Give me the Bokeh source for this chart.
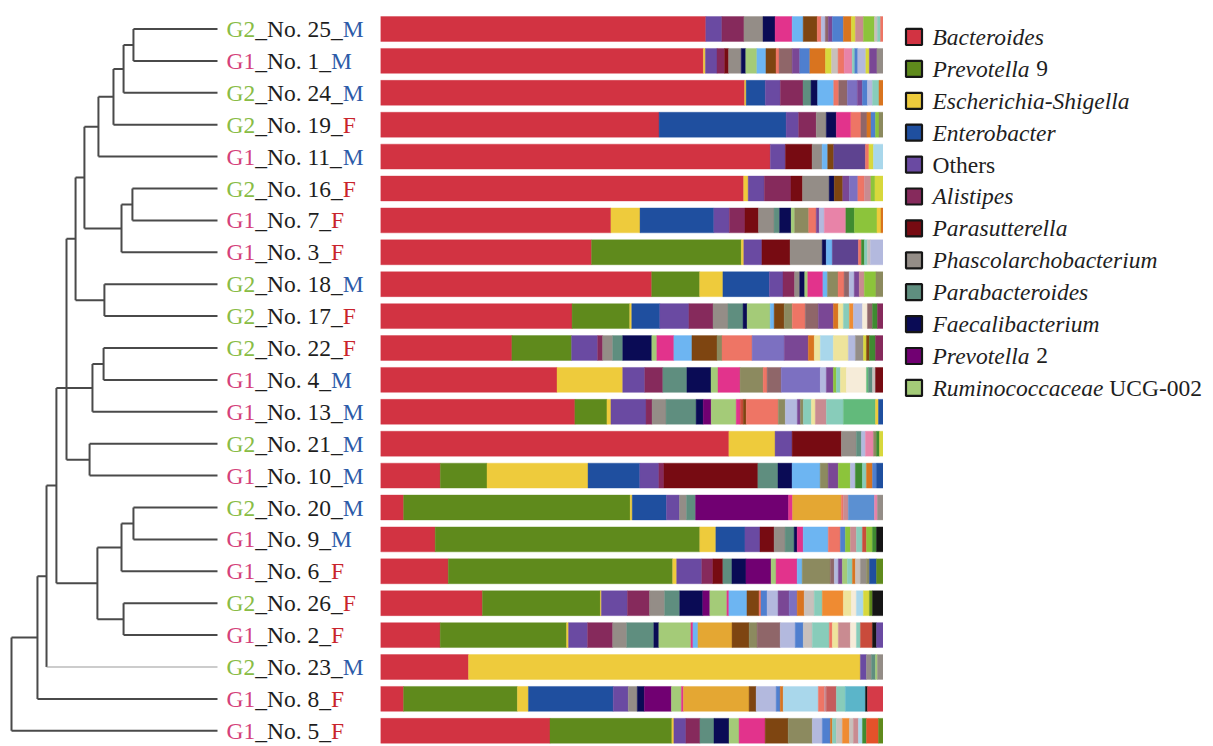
from bokeh.plotting import figure
from bokeh.models import ColumnDataSource, Range1d
from bokeh.layouts import row
from bokeh.embed import file_html
from bokeh.resources import INLINE
from bokeh.core.properties import value

# ---------------- data ----------------
groups = ["G2", "G1", "G2", "G2", "G1", "G2", "G1", "G1", "G2", "G2", "G2", "G1",
          "G1", "G2", "G1", "G2", "G1", "G1", "G2", "G1", "G2", "G1", "G1"]
numbers = [25, 1, 24, 19, 11, 16, 7, 3, 18, 17, 22, 4, 13, 21, 10, 20, 9, 6, 26, 2, 23, 8, 5]
sexes = ["M", "M", "M", "F", "M", "F", "F", "F", "M", "F", "F", "M",
         "M", "M", "M", "M", "M", "F", "F", "F", "M", "F", "F"]

# dendrogram merges (child_a, child_b, distance); leaves are 0..22 in row order
merges = [
    (0, 1, 0.408), (23, 2, 0.456), (24, 3, 0.505), (25, 4, 0.578),
    (5, 6, 0.413), (27, 7, 0.466), (26, 28, 0.646), (8, 9, 0.549),
    (29, 30, 0.689), (13, 14, 0.621), (31, 32, 0.733), (10, 11, 0.553),
    (34, 12, 0.607), (15, 16, 0.408), (36, 17, 0.466), (18, 19, 0.456),
    (37, 38, 0.583), (35, 39, 0.782), (40, 20, 0.830), (41, 21, 0.874),
    (42, 22, 1.000),
]

legend_keys = ["Bac", "Pre9", "Esc", "Ent", "Oth", "Ali", "Par", "Pha", "Pab", "Fae", "Pre2", "Rum"]
legend_italic = ["Bacteroides", "Prevotella", "Escherichia-Shigella", "Enterobacter", "",
                 "Alistipes", "Parasutterella", "Phascolarchobacterium", "Parabacteroides",
                 "Faecalibacterium", "Prevotella", "Ruminococcaceae"]
legend_plain = ["", "9", "", "", "Others", "", "", "", "", "", "2", "UCG-002"]

taxon_colors = {
    "Bac": "#d23342", "Pre9": "#5f8a1c", "Esc": "#eecb3c", "Ent": "#1f4f9f",
    "Oth": "#6a4aa2", "Ali": "#862a5c", "Par": "#770b12", "Pha": "#948d87",
    "Pab": "#5f8e7f", "Fae": "#0a0b55", "Pre2": "#710072", "Rum": "#a4cb78",
    "pink": "#e2338c", "lightblue": "#6db5f2", "brown": "#7e4511", "olive": "#8c8a5f",
    "salmon": "#ee7565", "mauve": "#8f6669", "lavender": "#7c70c1", "violet": "#7a4795",
    "gold": "#e4a733", "steel": "#4f7fcf", "periwinkle": "#b3b9de", "orange": "#d9741f",
    "lightyellow": "#eee49c", "mint": "#88ccba", "rosy": "#c98b91", "lime": "#8cc43b",
    "lightcyan": "#a9d7eb", "seagreen": "#62ba7b", "cream": "#f6ecd9", "green2": "#3f8b31",
    "rust": "#c94b3b", "cyan": "#5bb5c9", "yellowlime": "#d8d83c", "black": "#151515",
    "lightgray": "#c8c0bc", "darkviolet": "#5e4390", "crimson": "#d53a48",
    "orange2": "#ef8b32", "rustorange": "#e4522a", "rose": "#e883a8", "skyblue": "#5b90d2",
    "dustyred": "#c55c5c",
}

comp_no25 = [("Bac", 64.8), ("Oth", 3.2), ("Ali", 4.4), ("Pha", 3.8), ("Fae", 2.4), ("pink", 3.4),
             ("lightblue", 2.2), ("brown", 2.8), ("salmon", 0.8), ("periwinkle", 0.8), ("mauve", 0.6),
             ("violet", 0.8), ("steel", 2.2), ("orange", 1.6), ("yellowlime", 0.8), ("rosy", 1.6),
             ("lime", 2.2), ("lightgray", 0.6), ("mint", 0.6), ("salmon", 0.6)]
comp_no1 = [("Bac", 64.0), ("Esc", 0.4), ("Oth", 2.3), ("Ali", 1.5), ("Par", 0.8), ("Pha", 2.5),
            ("Fae", 0.9), ("Rum", 2.2), ("lightblue", 1.8), ("brown", 2.0), ("salmon", 0.6),
            ("mauve", 2.6), ("violet", 1.5), ("steel", 2.0), ("orange", 3.1), ("yellowlime", 1.2),
            ("lightgray", 1.3), ("salmon", 1.2), ("rose", 1.6), ("mint", 0.5), ("steel", 0.6),
            ("periwinkle", 1.6), ("yellowlime", 0.7), ("violet", 1.5), ("Pha", 1.3)]
comp_no24 = [("Bac", 72.4), ("Esc", 0.3), ("Ent", 3.8), ("Oth", 3.0), ("Ali", 4.5), ("Pab", 1.6),
             ("Fae", 1.3), ("lightblue", 3.2), ("salmon", 1.0), ("mauve", 1.7), ("lavender", 2.0),
             ("violet", 1.0), ("steel", 1.0), ("periwinkle", 1.0), ("mint", 1.3), ("orange", 0.9)]
comp_no19 = [("Bac", 55.5), ("Ent", 25.3), ("Oth", 2.5), ("Ali", 3.5), ("Pha", 2.0), ("Fae", 2.0),
             ("pink", 2.9), ("salmon", 2.0), ("mauve", 1.2), ("orange", 0.8), ("steel", 0.9),
             ("lime", 0.7), ("olive", 0.9)]
comp_no11 = [("Bac", 77.5), ("Oth", 3.0), ("Par", 5.3), ("Pha", 2.0), ("lightblue", 1.1),
             ("brown", 1.2), ("darkviolet", 6.3), ("salmon", 0.7), ("yellowlime", 0.9),
             ("lightcyan", 2.0)]
comp_no16 = [("Bac", 72.2), ("Esc", 0.9), ("Oth", 3.2), ("Ali", 5.3), ("Par", 2.3), ("Pha", 5.3),
             ("Fae", 1.0), ("brown", 1.7), ("violet", 1.3), ("lavender", 1.7), ("salmon", 1.3),
             ("rosy", 1.3), ("lime", 0.8), ("yellowlime", 1.7)]
comp_no7 = [("Bac", 45.9), ("Esc", 5.8), ("Ent", 14.7), ("Oth", 3.1), ("Ali", 3.1), ("Par", 2.7),
            ("Pha", 3.1), ("Pab", 1.1), ("Fae", 2.3), ("Rum", 0.7), ("olive", 2.8), ("salmon", 1.5),
            ("violet", 0.6), ("periwinkle", 1.0), ("rose", 4.3), ("green2", 1.7), ("lime", 4.5),
            ("Esc", 0.8), ("orange", 0.5)]
comp_no3 = [("Bac", 42.0), ("Pre9", 29.8), ("Esc", 0.5), ("Oth", 3.6), ("Par", 5.6), ("Pha", 6.4),
            ("Fae", 0.8), ("lightblue", 1.2), ("darkviolet", 5.2), ("salmon", 0.6), ("green2", 0.6),
            ("mint", 0.6), ("lightgray", 0.6), ("periwinkle", 2.6)]
comp_no18 = [("Bac", 53.7), ("Pre9", 9.5), ("Esc", 4.6), ("Ent", 9.2), ("Oth", 2.7), ("Ali", 2.3),
             ("Pha", 1.0), ("Fae", 1.0), ("Rum", 0.6), ("pink", 3.0), ("lightblue", 0.9),
             ("olive", 2.1), ("salmon", 1.2), ("mauve", 1.0), ("periwinkle", 1.0), ("violet", 1.0),
             ("rosy", 1.0), ("lime", 2.3), ("olive", 1.5)]
comp_no17 = [("Bac", 38.2), ("Pre9", 11.5), ("Esc", 0.4), ("Ent", 5.6), ("Oth", 5.8), ("Ali", 4.8),
             ("Pha", 3.0), ("Pab", 3.0), ("Fae", 0.8), ("Rum", 4.6), ("lightblue", 0.8),
             ("brown", 2.0), ("olive", 1.6), ("salmon", 2.6), ("mauve", 2.6), ("violet", 3.0),
             ("orange", 1.0), ("lightyellow", 1.0), ("mint", 1.2), ("orange2", 0.8),
             ("periwinkle", 1.8), ("cream", 1.0), ("mauve", 1.0), ("green2", 1.0), ("Ali", 1.2)]
comp_no22 = [("Bac", 26.2), ("Pre9", 11.9), ("Oth", 5.2), ("Ali", 1.0), ("Pha", 2.0), ("Pab", 2.0),
             ("Fae", 5.8), ("Rum", 1.0), ("pink", 3.4), ("lightblue", 3.6), ("brown", 5.0),
             ("olive", 1.0), ("salmon", 6.0), ("lavender", 6.4), ("violet", 4.8), ("orange", 1.2),
             ("lightyellow", 1.2), ("lightcyan", 2.6), ("lightyellow", 3.0), ("periwinkle", 1.4),
             ("Pha", 1.6), ("yellowlime", 0.6), ("brown", 0.6), ("green2", 1.2), ("Ali", 1.6)]
comp_no4 = [("Bac", 35.2), ("Esc", 13.1), ("Oth", 4.4), ("Ali", 3.6), ("Pab", 4.8), ("Fae", 4.8),
            ("Rum", 1.4), ("pink", 4.4), ("olive", 4.6), ("salmon", 0.8), ("mauve", 2.8),
            ("lavender", 7.8), ("periwinkle", 1.2), ("violet", 1.4), ("lime", 0.6), ("mint", 0.8),
            ("lightyellow", 1.2), ("cream", 4.0), ("seagreen", 0.4), ("Pab", 0.8),
            ("lightgray", 0.6), ("Par", 1.6)]
comp_no13 = [("Bac", 38.8), ("Pre9", 6.4), ("Esc", 0.8), ("Oth", 7.0), ("Ali", 1.2), ("Pha", 2.8),
             ("Pab", 6.0), ("Fae", 1.4), ("Pre2", 1.6), ("Rum", 5.0), ("pink", 0.8), ("rust", 0.6),
             ("brown", 0.6), ("salmon", 6.4), ("olive", 1.4), ("periwinkle", 2.4), ("violet", 0.6),
             ("olive", 0.6), ("mint", 1.6), ("lightyellow", 0.8), ("rosy", 2.2), ("mint", 3.4),
             ("seagreen", 6.4), ("Esc", 0.6), ("Ent", 1.0)]
comp_no21 = [("Bac", 69.4), ("Esc", 9.2), ("Oth", 3.4), ("Par", 9.8), ("Pha", 3.0), ("Pab", 1.0),
             ("periwinkle", 0.8), ("rose", 1.6), ("olive", 0.6), ("green2", 0.6), ("yellowlime", 0.8)]
comp_no10 = [("Bac", 11.9), ("Pre9", 9.3), ("Esc", 20.1), ("Ent", 10.3), ("Oth", 3.8), ("Ali", 1.0),
             ("Par", 18.7), ("Pab", 4.0), ("Fae", 2.8), ("lightblue", 5.6), ("olive", 1.6),
             ("violet", 2.0), ("lime", 2.4), ("periwinkle", 1.0), ("green2", 1.4), ("mint", 0.8),
             ("orange", 1.2), ("steel", 0.8), ("Ent", 1.4)]
comp_no20 = [("Bac", 4.6), ("Pre9", 45.1), ("Esc", 0.4), ("Ent", 6.8), ("Oth", 2.6), ("Pha", 1.4),
             ("Pab", 1.8), ("Pre2", 18.5), ("pink", 0.8), ("gold", 9.7), ("salmon", 0.4),
             ("rosy", 1.0), ("skyblue", 5.2), ("rose", 0.6), ("Pha", 1.2)]
comp_no9 = [("Bac", 10.9), ("Pre9", 52.7), ("Esc", 3.2), ("Ent", 5.8), ("Oth", 3.0), ("Par", 2.8),
            ("Pha", 2.2), ("Pab", 1.8), ("Fae", 0.6), ("pink", 1.2), ("lightblue", 5.0),
            ("salmon", 2.4), ("steel", 1.0), ("lime", 1.0), ("rosy", 1.2), ("mint", 1.2),
            ("rust", 0.8), ("lime", 1.2), ("green2", 0.8), ("black", 1.4)]
comp_no6 = [("Bac", 13.5), ("Pre9", 44.7), ("Esc", 0.8), ("Oth", 5.0), ("Ali", 2.2), ("Par", 2.0),
            ("Pab", 1.8), ("Fae", 2.8), ("Pre2", 5.0), ("Rum", 1.0), ("pink", 4.2),
            ("lightblue", 1.0), ("olive", 5.6), ("mauve", 0.8), ("periwinkle", 0.8), ("violet", 0.8),
            ("Rum", 1.0), ("mint", 1.0), ("orange", 0.6), ("lightgray", 1.0), ("Pha", 1.2),
            ("olive", 0.6), ("Ent", 1.4), ("Pre9", 1.4)]
comp_no26 = [("Bac", 20.3), ("Pre9", 23.5), ("Esc", 0.2), ("Oth", 5.2), ("Ali", 4.4), ("Pha", 3.0),
             ("Pab", 3.0), ("Fae", 4.6), ("Pre2", 1.4), ("Rum", 3.4), ("pink", 0.4),
             ("lightblue", 3.6), ("brown", 2.4), ("salmon", 0.4), ("steel", 1.2),
             ("periwinkle", 2.2), ("violet", 2.2), ("lavender", 1.6), ("orange", 1.4),
             ("lightgray", 2.0), ("mint", 1.6), ("orange2", 4.2), ("lightyellow", 1.6),
             ("cream", 1.0), ("lightcyan", 1.4), ("yellowlime", 1.2), ("Pre9", 0.6), ("black", 2.2)]
comp_no2 = [("Bac", 11.9), ("Pre9", 25.2), ("Esc", 0.4), ("Oth", 3.8), ("Ali", 5.0), ("Pha", 2.8),
            ("Pab", 5.4), ("Fae", 1.0), ("Rum", 6.4), ("pink", 0.4), ("lightblue", 1.0),
            ("gold", 6.8), ("brown", 3.4), ("olive", 1.6), ("mauve", 4.6), ("periwinkle", 3.0),
            ("steel", 1.6), ("lightgray", 1.8), ("mint", 3.4), ("salmon", 0.6),
            ("lightyellow", 1.2), ("rosy", 2.4), ("cream", 1.2), ("mint", 0.8), ("rust", 2.4),
            ("black", 0.8), ("Oth", 1.4)]
comp_no23 = [("Bac", 17.5), ("Esc", 77.9), ("Oth", 1.2), ("Pha", 1.0), ("Pab", 0.8), ("Rum", 0.4),
             ("Pha", 1.2)]
comp_no8 = [("Bac", 4.6), ("Pre9", 22.7), ("Esc", 2.2), ("Ent", 16.9), ("Oth", 3.0), ("Pha", 1.8),
            ("Fae", 1.4), ("Pre2", 5.4), ("Rum", 2.0), ("pink", 0.4), ("gold", 13.1), ("brown", 1.4),
            ("periwinkle", 4.0), ("steel", 0.8), ("orange", 0.6), ("lightcyan", 7.0),
            ("salmon", 1.2), ("rosy", 0.4), ("dustyred", 2.0), ("mint", 1.8), ("cyan", 4.0),
            ("black", 0.4), ("crimson", 3.2)]
comp_no5 = [("Bac", 33.8), ("Pre9", 24.3), ("Esc", 0.4), ("Oth", 2.4), ("Ali", 2.8), ("Pab", 2.8),
            ("Fae", 3.0), ("Rum", 2.0), ("pink", 5.2), ("brown", 4.6), ("olive", 4.8),
            ("periwinkle", 2.0), ("steel", 1.6), ("orange", 0.4), ("mint", 0.8), ("lightgray", 1.2),
            ("orange2", 1.4), ("lightgray", 0.8), ("rosy", 1.0), ("lightcyan", 0.8),
            ("green2", 0.8), ("rustorange", 2.4), ("Pre9", 1.0)]

compositions = [comp_no25, comp_no1, comp_no24, comp_no19, comp_no11, comp_no16, comp_no7,
                comp_no3, comp_no18, comp_no17, comp_no22, comp_no4, comp_no13, comp_no21,
                comp_no10, comp_no20, comp_no9, comp_no6, comp_no26, comp_no2, comp_no23,
                comp_no8, comp_no5]

# ---------------- layout / style ----------------
H = 746
W_DENDRO, W_BARS, W_LEG = 380, 503, 326
ROW_PX = 31.9
FIRST_ROW_PX = 28.5
n = len(numbers)
y_top = -FIRST_ROW_PX / ROW_PX
y_bottom = y_top + H / ROW_PX

LEAF_PX = 217.0   # leaf tips, px from left of dendrogram panel
PX_PER_DIST = 206.0
LABEL_GAP_PX = 9.0

SERIF = "Liberation Serif"
FS = 23.5
group_colors = {"G1": "#d4417a", "G2": "#89bc45"}
sex_colors = {"M": "#2d5ba8", "F": "#c9232c"}
TEXT_DARK = "#1e1e1e"
LINE_COLOR = "#4a4a4a"

times_regular = {"G": 722, "N": 722, "M": 889, "F": 556, "o": 500, ".": 250, " ": 250, "_": 500}
for d in "0123456789":
    times_regular[d] = 500
times_italic = {"P": 611, "r": 389, "e": 444, "v": 444, "o": 500, "t": 278, "l": 278, "a": 500,
                "R": 611, "u": 500, "m": 722, "i": 278, "n": 500, "c": 444, "B": 611, "s": 389,
                "d": 500, "E": 611, "h": 500, "-": 333, "S": 500, "g": 500, "A": 611, "p": 500,
                "b": 500, "f": 278, "F": 611}
SPACE_W = 250


def text_px(s, table, fs):
    return sum(table.get(ch, 500) for ch in s) / 1000.0 * fs


def make_fig(width, x_range):
    p = figure(width=width, height=H, x_range=x_range,
               y_range=Range1d(start=y_bottom, end=y_top),
               x_axis_location=None, y_axis_location=None,
               toolbar_location=None, output_backend="svg",
               min_border=0, min_border_left=0, min_border_right=0,
               min_border_top=0, min_border_bottom=0)
    p.grid.visible = False
    p.outline_line_color = None
    p.background_fill_color = "white"
    p.border_fill_color = "white"
    return p


# ---------------- dendrogram + labels ----------------
pd = make_fig(W_DENDRO, Range1d(start=LEAF_PX / PX_PER_DIST,
                                end=(LEAF_PX - W_DENDRO) / PX_PER_DIST))
node_x = {i: 0.0 for i in range(n)}
node_y = {i: float(i) for i in range(n)}
seg = dict(x0=[], y0=[], x1=[], y1=[], c=[], w=[])


def add_seg(x0, y0, x1, y1, c=LINE_COLOR, w=2.0):
    seg["x0"].append(x0); seg["y0"].append(y0)
    seg["x1"].append(x1); seg["y1"].append(y1)
    seg["c"].append(c); seg["w"].append(w)


thin_leaf = 20
for k, (a, b, h) in enumerate(merges):
    nid = n + k
    add_seg(h, node_y[a], h, node_y[b])
    for ch in (a, b):
        if ch == thin_leaf:
            add_seg(node_x[ch], node_y[ch], h, node_y[ch], "#9a9a9a", 1.2)
        else:
            add_seg(node_x[ch], node_y[ch], h, node_y[ch])
    node_x[nid] = h
    node_y[nid] = (node_y[a] + node_y[b]) / 2.0

pd.segment(x0="x0", y0="y0", x1="x1", y1="y1", line_color="c", line_width="w",
           source=ColumnDataSource(seg))

label_x = -LABEL_GAP_PX / PX_PER_DIST
mids = ["_No. %d_" % num for num in numbers]
w_pre = [text_px(g, times_regular, FS) for g in groups]
w_mid = [text_px(m, times_regular, FS) for m in mids]
ys = list(range(n))
common = dict(text_font=value(SERIF), text_font_size="%.1fpx" % FS, text_baseline="middle",
              text_align="left")
pd.text(x=[label_x] * n, y=ys, text=groups,
        text_color=[group_colors[g] for g in groups], **common)
pd.text(x=[label_x] * n, y=ys, text=mids, x_offset=w_pre, text_color=TEXT_DARK, **common)
pd.text(x=[label_x] * n, y=ys, text=sexes, x_offset=[a + b for a, b in zip(w_pre, w_mid)],
        text_color=[sex_colors[s] for s in sexes], **common)

# ---------------- stacked bars ----------------
pb = make_fig(W_BARS, Range1d(0, 100))
bars = dict(y=[], left=[], right=[], color=[])
for i, comp in enumerate(compositions):
    total = sum(v for _, v in comp)
    acc = 0.0
    for key, v in comp:
        val = v / total * 100.0
        bars["y"].append(i)
        bars["left"].append(acc)
        bars["right"].append(acc + val)
        bars["color"].append(taxon_colors[key])
        acc += val
pb.hbar(y="y", left="left", right="right", height=0.78, fill_color="color",
        line_color="color", line_width=0.4, source=ColumnDataSource(bars))

# ---------------- legend ----------------
pl = make_fig(W_LEG, Range1d(0, W_LEG))
LEG_OFFSET = 0.25
ly = [k + LEG_OFFSET for k in range(len(legend_keys))]
pl.scatter(x=[30.5] * len(ly), y=ly, marker="square", size=16,
           fill_color=[taxon_colors[k] for k in legend_keys], line_color="#161616", line_width=2.2)
it_w = [text_px(s, times_italic, FS) + (SPACE_W / 1000.0 * FS if s and pl_ else 0)
        for s, pl_ in zip(legend_italic, legend_plain)]
pl.text(x=[49] * len(ly), y=ly, text=legend_italic, text_font=value(SERIF),
        text_font_style="italic", text_font_size="%.1fpx" % FS, text_color=TEXT_DARK,
        text_baseline="middle", text_align="left")
pl.text(x=[49] * len(ly), y=ly, text=legend_plain, x_offset=it_w, text_font=value(SERIF),
        text_font_size="%.1fpx" % FS, text_color=TEXT_DARK,
        text_baseline="middle", text_align="left")

layout = row(pd, pb, pl)
open("out.html", "w").write(file_html(layout, INLINE))
